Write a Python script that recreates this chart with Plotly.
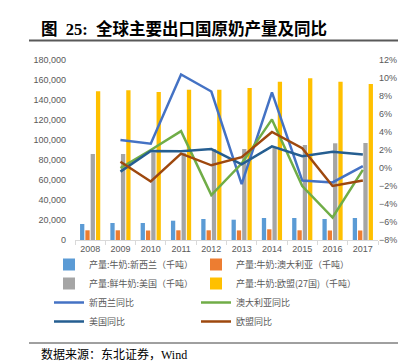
import plotly.graph_objects as go

years = ["2008", "2009", "2010", "2011", "2012", "2013", "2014", "2015", "2016", "2017"]
nz_prod = [16000, 17000, 17000, 19300, 21000, 20300, 22000, 22000, 21000, 22000]
au_prod = [9700, 9700, 9500, 9700, 9700, 9600, 10700, 9700, 9500, 9500]
us_prod = [86000, 86000, 87500, 87000, 91000, 91000, 93000, 95000, 96700, 97000]
eu_prod = [148700, 149700, 148000, 150300, 150300, 152000, 158300, 161700, 158300, 156000]

line_years = years[1:]
nz_yoy = [3.1, 2.7, 10.4, 8.5, -1.8, 8.4, -1.4, -1.6, 0.2]
au_yoy = [0.0, 2.0, 4.1, -3.0, 0.5, 5.4, -2.0, -5.5, -0.2]
us_yoy = [-0.4, 1.9, 1.85, 2.1, 0.4, 2.4, 1.3, 1.8, 1.5]
eu_yoy = [0.7, -1.5, 1.6, 0.3, 1.2, 4.0, 2.2, -2.0, -1.4]

bar_names = ["产量:牛奶:新西兰（千吨）", "产量:牛奶:澳大利亚（千吨）",
             "产量:鲜牛奶:美国（千吨）", "产量:牛奶:欧盟(27国)（千吨）"]
line_names = ["新西兰同比", "澳大利亚同比", "美国同比", "欧盟同比"]
bar_colors = ["#5B9BD5", "#ED7D31", "#A5A5A5", "#FFC000"]
line_colors = ["#4472C4", "#70AD47", "#255E91", "#9E480E"]
# left legend column: New Zealand & US; right column: Australia & EU
legend_cols = ["legend", "legend2", "legend", "legend2"]

fig = go.Figure()
for name, vals, col, lg in zip(bar_names, [nz_prod, au_prod, us_prod, eu_prod], bar_colors, legend_cols):
    fig.add_trace(go.Bar(x=years, y=vals, name=name, marker_color=col, marker_line_width=0,
                         legend=lg))
for name, vals, col, lg in zip(line_names, [nz_yoy, au_yoy, us_yoy, eu_yoy], line_colors, legend_cols):
    fig.add_trace(go.Scatter(x=line_years, y=vals, name=name, mode="lines",
                             line=dict(color=col, width=2.5), yaxis="y2", legend=lg))

L, T, R, B = 67, 52, 36, 131
W, H = 406, 363
pw, ph = W - L - R, H - T - B

def px(x):
    return (x - L) / pw

def py(y):
    return (H - B - y) / ph

tick_font = dict(family="Liberation Sans, Noto Sans CJK SC", size=9, color="#595959")
leg_font = dict(family="Noto Sans CJK SC", size=9, color="#595959")

fig.update_layout(
    width=W, height=H,
    margin=dict(l=L, r=R, t=T, b=B, pad=0),
    paper_bgcolor="white", plot_bgcolor="white",
    barmode="group", bargap=0.3, bargroupgap=0.19,
    showlegend=True,
    legend=dict(orientation="v", x=px(41), xanchor="left", y=py(242), yanchor="top",
                itemwidth=30, font=leg_font, bgcolor="rgba(0,0,0,0)", traceorder="normal"),
    legend2=dict(orientation="v", x=px(188), xanchor="left", y=py(242), yanchor="top",
                 itemwidth=30, font=leg_font, bgcolor="rgba(0,0,0,0)", traceorder="normal"),
    xaxis=dict(type="category", showline=True, linecolor="#D9D9D9", linewidth=1,
               ticks="outside", tickson="boundaries", ticklen=4, tickcolor="#D9D9D9",
               showgrid=False, tickfont=tick_font, zeroline=False),
    yaxis=dict(range=[0, 180000], dtick=20000, tickformat=",", showgrid=False,
               zeroline=False, showline=False, tickfont=tick_font, ticklabelstandoff=8),
    yaxis2=dict(overlaying="y", side="right", range=[-8, 12], dtick=2, ticksuffix="%",
                showgrid=False, zeroline=False, showline=False, tickfont=tick_font,
                ticklabelstandoff=0),
    font=dict(family="Noto Sans CJK SC"),
)

fig.add_annotation(text="<b>图  25:  全球主要出口国原奶产量及同比</b>", xref="paper", yref="paper",
                   x=px(31), y=py(21), xanchor="left", yanchor="middle", showarrow=False,
                   font=dict(family="Liberation Serif, Noto Sans CJK SC", size=16.5, color="#000000"))
fig.add_annotation(text="数据来源：东北证券，Wind", xref="paper", yref="paper",
                   x=px(31), y=py(346), xanchor="left", yanchor="middle", showarrow=False,
                   font=dict(family="Liberation Serif, Noto Sans CJK SC", size=12, color="#000000"))
fig.add_shape(type="line", xref="paper", yref="paper", x0=px(21), x1=px(399),
              y0=py(32.5), y1=py(32.5), line=dict(color="#595959", width=2))
fig.add_shape(type="line", xref="paper", yref="paper", x0=px(21), x1=px(399),
              y0=py(335), y1=py(335), line=dict(color="#404040", width=1))

fig.write_html("out.html")
